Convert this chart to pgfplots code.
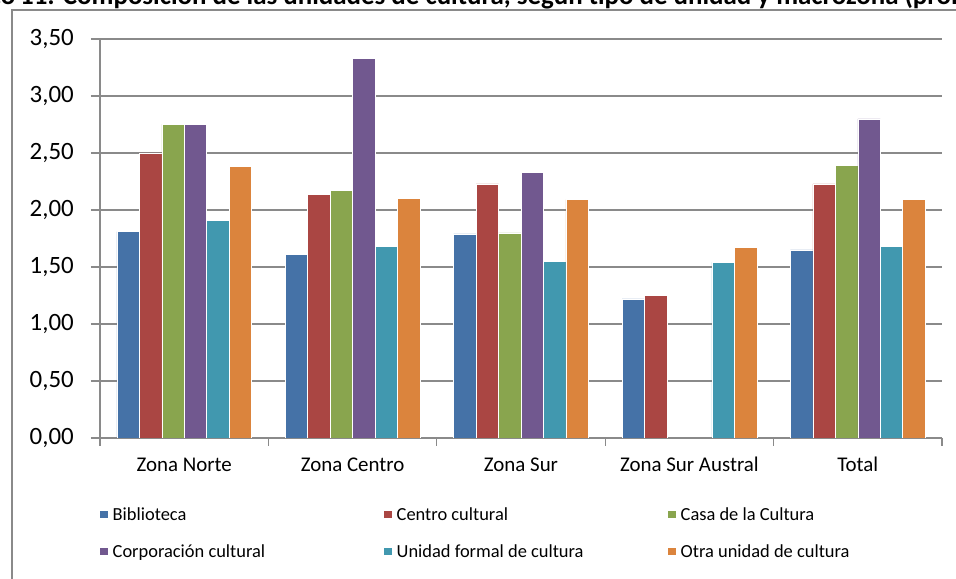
\documentclass[border=0pt]{standalone}
\usepackage{pgfplots}
\usepackage{pgfplotstable}
\pgfplotsset{compat=1.18}
\usepackage{fontspec}
\setmainfont{Carlito}
\definecolor{cBlue}{HTML}{4572A7}
\definecolor{cRed}{HTML}{AA4643}
\definecolor{cGreen}{HTML}{89A54E}
\definecolor{cPurple}{HTML}{71588F}
\definecolor{cTeal}{HTML}{4198AF}
\definecolor{cOrange}{HTML}{DB843D}
\definecolor{gridc}{HTML}{8A8A8A}

\pgfplotstableread{
x Bib Cen Cas Cor Uni Otr
0 1.81 2.50 2.75 2.75 1.91 2.38
1 1.61 2.14 2.17 3.33 1.68 2.10
2 1.79 2.23 1.80 2.33 1.55 2.09
3 1.22 1.25 nan nan 1.54 1.67
4 1.65 2.23 2.39 2.80 1.68 2.09
}\datatable

\begin{document}
\begin{tikzpicture}[x=1bp,y=1bp]
% outer chart frame
\draw[gridc, line width=1.3bp] (12,-30) -- (12,569) -- (990,569);
% title (clipped by the page edge, as in the reference)
\node[anchor=base east, inner sep=0pt, font=\bfseries\fontsize{27}{31}\selectfont] at (15.5,574.5) {Gráfico};
\node[anchor=base west, inner sep=0pt, font=\bfseries\fontsize{27}{31}\selectfont] at (20,574.5) {11: Composición de las unidades de cultura, según tipo de unidad y macrozona (promedio)};
\begin{axis}[
  at={(100bp,141bp)}, anchor=south west,
  scale only axis, width=842bp, height=399bp,
  xmin=-0.5, xmax=4.5, ymin=0, ymax=3.5,
  ybar=0pt, bar width=22.45bp,
  xtick={0,1,2,3,4},
  xticklabels={Zona Norte, Zona Centro, Zona Sur, Zona Sur Austral, Total},
  minor xtick={-0.5,0.5,1.5,2.5,3.5,4.5},
  ytick={0,0.5,1,1.5,2,2.5,3,3.5},
  ymajorgrids,
  grid style={gridc, line width=1.3bp},
  axis x line*=bottom, axis y line*=left,
  axis line style={gridc, line width=1.3bp},
  tick align=outside,
  major tick length=9bp, minor tick length=8bp,
  major x tick style={draw=none},
  minor x tick style={gridc, line width=1.3bp},
  major y tick style={gridc, line width=1.3bp},
  xtick pos=bottom, ytick pos=left,
  xticklabel style={font=\fontsize{21}{25}\selectfont, inner sep=0pt, anchor=base, yshift=-25bp},
  yticklabel style={font=\fontsize{25}{29}\selectfont, inner sep=0pt, anchor=east, xshift=-17bp,
    /pgf/number format/.cd, fixed, fixed zerofill, precision=2, use comma, assume math mode=true},
  legend columns=3,
  legend style={draw=none, fill=none, at={(0,-0.173)}, anchor=north west, inner sep=0pt,
    font=\fontsize{18.5}{22}\selectfont, column sep=5bp, row sep=23bp,
    nodes={inner sep=0pt}},
  legend cell align=left,
  legend image code/.code={\path[#1,draw=none] (0bp,-3.75bp) rectangle (7.5bp,3.75bp);},
  every axis plot/.append style={draw=white, line width=0.5bp},
]
\addplot[fill=cBlue] table[x=x,y=Bib] {\datatable};
\addlegendentry{\makebox[266.5bp][l]{Biblioteca}}
\addplot[fill=cRed] table[x=x,y=Cen] {\datatable};
\addlegendentry{\makebox[266.5bp][l]{Centro cultural}}
\addplot[fill=cGreen] table[x=x,y=Cas] {\datatable};
\addlegendentry{\makebox[266.5bp][l]{Casa de la Cultura}}
\addplot[fill=cPurple] table[x=x,y=Cor] {\datatable};
\addlegendentry{\makebox[266.5bp][l]{Corporación cultural}}
\addplot[fill=cTeal] table[x=x,y=Uni] {\datatable};
\addlegendentry{\makebox[266.5bp][l]{Unidad formal de cultura}}
\addplot[fill=cOrange] table[x=x,y=Otr] {\datatable};
\addlegendentry{\makebox[266.5bp][l]{Otra unidad de cultura}}
\end{axis}
\pgfresetboundingbox
\path[use as bounding box] (0,0) rectangle (956,579);
\end{tikzpicture}
\end{document}
